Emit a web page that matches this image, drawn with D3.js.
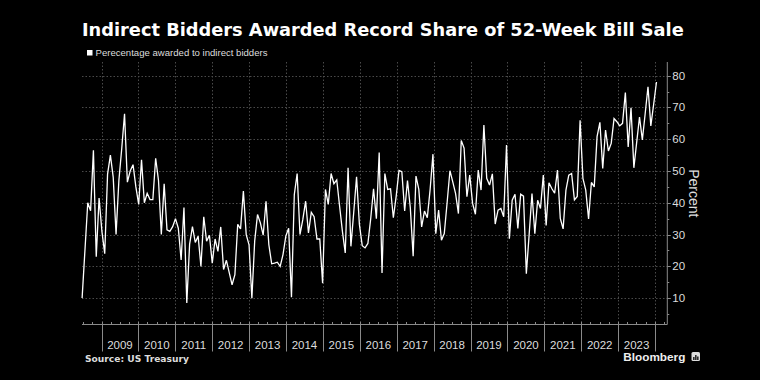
<!DOCTYPE html>
<html>
<head>
<meta charset="utf-8">
<script src="https://cdn.jsdelivr.net/npm/d3@7"></script>
<style>
  html, body { margin: 0; padding: 0; background: #000; }
  svg { display: block; }
</style>
</head>
<body>
<svg id="chart" width="760" height="380"></svg>
<script>
// ---- Data ----
const titleText = "Indirect Bidders Awarded Record Share of 52-Week Bill Sale";
const legendText = "Perecentage awarded to indirect bidders";
const sourceText = "Source: US Treasury";
const yAxisLabel = "Percent";
// 52-week bill auctions, every 4 weeks starting June 2008
const firstAuction = "2008-06-23";
const auctionStepDays = 28;
const values = [
  10, 25, 40, 37.5, 56.5, 23, 41.5, 31, 24, 49,
  55, 48, 30, 47, 57, 68, 46.5, 50, 52, 45,
  39.5, 53.5, 40, 43, 41, 41, 54, 47, 30, 46,
  31.5, 31, 32.5, 35, 32, 22, 38.5, 8.5, 27, 32.5,
  27.5, 29.5, 20, 35.6, 27.9, 29.8, 21, 28.6, 24.7, 32.4,
  19, 21.9, 18, 14.2, 17.4, 33.2, 31.8, 43.7, 30, 26.8,
  10, 28, 36.3, 33.7, 29.8, 40.5, 26.8, 20.8, 21, 21.3,
  20, 23.7, 29.5, 32, 10.3, 42.6, 49.2, 30, 34.7, 40.5,
  30.5, 37, 35.6, 28.6, 28.6, 14.7, 44.2, 39.5, 49.2, 46,
  47.2, 39, 31, 24.2, 51, 26.3, 37, 48.2, 33.2, 26.5,
  25.8, 27.2, 35, 44.4, 35, 55.8, 17.9, 49.2, 44.2, 44.4,
  35.3, 42, 50.2, 49.8, 37.4, 47, 38.4, 23.2, 48.4, 44.2,
  32.4, 37.4, 35.3, 44.2, 55.3, 30.3, 37.7, 28.2, 30.3, 40,
  50.1, 46.6, 42.9, 36.6, 59.6, 57.2, 41.9, 48.7, 39.8, 36.4,
  50.3, 44, 64.5, 47.7, 45.6, 49.1, 33.3, 37.7, 38.2, 35.6,
  58.2, 28.7, 40.8, 42.7, 31.9, 42.7, 42.1, 17.7, 30, 42.9,
  30.3, 40.8, 38.2, 48.7, 32.9, 46.3, 44.5, 43, 50.3, 35.1,
  31.8, 44, 48.7, 49.2, 40.9, 42, 66, 47.7, 44, 34.9,
  46.4, 45, 60.8, 65.3, 50.8, 62.9, 56.3, 58.7, 66.5, 65.5,
  64.2, 65, 74.7, 57.6, 69.9, 51, 59, 67, 59.8, 68,
  76.5, 64.2, 71, 78
];
const yTicks = [10, 20, 30, 40, 50, 60, 70, 80];
const yMinorTicks = [5, 15, 25, 35, 45, 55, 65, 75];
const yearLabels = ["2009","2010","2011","2012","2013","2014","2015","2016","2017","2018","2019","2020","2021","2022","2023"];
const xDomain = ["2008-06-22", "2024-05-01"];
const yDomain = [1.7, 84.3];

// ---- Layout ----
const pL = 82, pR = 667.3, pT = 62, pB = 324.5;
const svg = d3.select("#chart");
svg.append("rect").attr("width", 760).attr("height", 380).attr("fill", "#000");

const parse = d3.utcParse("%Y-%m-%d");
const start = parse(firstAuction);
const data = values.map((v, i) => ({ date: d3.utcDay.offset(start, i * auctionStepDays), value: v }));

const x = d3.scaleUtc().domain(xDomain.map(parse)).range([pL, pR]);
const y = d3.scaleLinear().domain(yDomain).range([pB, pT]);

function fitWidth(sel, w) {
  const l = sel.node().getComputedTextLength();
  const fs = parseFloat(sel.attr("font-size"));
  if (l > 0) sel.attr("font-size", (fs * w / l).toFixed(2));
}

// Title
const title = svg.append("text").attr("x", 82).attr("y", 36)
  .attr("fill", "#fff").attr("font-family", "DejaVu Sans").attr("font-weight", "bold")
  .attr("font-size", 18).text(titleText);
fitWidth(title, 602);

// Legend
svg.append("rect").attr("x", 87).attr("y", 50).attr("width", 5.5).attr("height", 5.5).attr("fill", "#fff");
const leg = svg.append("text").attr("x", 95.5).attr("y", 56)
  .attr("fill", "#ddd").attr("font-family", "Liberation Sans").attr("font-size", 9.5).text(legendText);
fitWidth(leg, 172);

// Grid
const yearTicks = d3.utcYear.range(parse("2009-01-01"), parse("2024-02-01"));
const g = svg.append("g");
g.selectAll(".vg").data(yearTicks).join("line")
  .attr("x1", d => Math.round(x(d)) + 0.5).attr("x2", d => Math.round(x(d)) + 0.5)
  .attr("y1", pT).attr("y2", pB)
  .attr("stroke", "#4a4a4a").attr("stroke-width", 1).attr("stroke-dasharray", "1.5,2");
g.selectAll(".hg").data(yTicks).join("line")
  .attr("x1", pL).attr("x2", pR)
  .attr("y1", d => Math.round(y(d)) + 0.5).attr("y2", d => Math.round(y(d)) + 0.5)
  .attr("stroke", "#4a4a4a").attr("stroke-width", 1).attr("stroke-dasharray", "1.5,2");

// Bottom axis
const axisColor = "#8a8a8a";
svg.append("line").attr("x1", pL).attr("x2", pR).attr("y1", pB).attr("y2", pB)
  .attr("stroke", axisColor).attr("stroke-width", 1);
const quarters = d3.utcMonth.every(3).range(parse("2008-07-01"), parse("2024-05-01"));
svg.selectAll(".qt").data(quarters).join("line")
  .attr("x1", d => Math.round(x(d)) + 0.5).attr("x2", d => Math.round(x(d)) + 0.5)
  .attr("y1", pB - 2.5).attr("y2", pB)
  .attr("stroke", axisColor).attr("stroke-width", 1);
svg.selectAll(".yt").data(yearTicks).join("line")
  .attr("x1", d => Math.round(x(d)) + 0.5).attr("x2", d => Math.round(x(d)) + 0.5)
  .attr("y1", pB).attr("y2", pB + 27)
  .attr("stroke", axisColor).attr("stroke-width", 1);
svg.selectAll(".yl").data(yearLabels).join("text")
  .attr("x", d => (x(parse(d + "-01-01")) + x(parse((+d + 1) + "-01-01"))) / 2)
  .attr("y", 349)
  .attr("text-anchor", "middle").attr("fill", "#ddd")
  .attr("font-family", "Liberation Sans").attr("font-size", 11.5).text(d => d);

// Right axis
svg.append("line").attr("x1", pR).attr("x2", pR).attr("y1", pT).attr("y2", pB)
  .attr("stroke", axisColor).attr("stroke-width", 1);
svg.selectAll(".ymt").data(yMinorTicks).join("line")
  .attr("x1", pR).attr("x2", pR + 2)
  .attr("y1", d => Math.round(y(d)) + 0.5).attr("y2", d => Math.round(y(d)) + 0.5)
  .attr("stroke", axisColor);
svg.selectAll(".ytk").data(yTicks).join("line")
  .attr("x1", pR).attr("x2", pR + 3.5)
  .attr("y1", d => Math.round(y(d)) + 0.5).attr("y2", d => Math.round(y(d)) + 0.5)
  .attr("stroke", axisColor);
svg.selectAll(".ylab").data(yTicks).join("text")
  .attr("x", pR + 5).attr("y", d => y(d) + 4)
  .attr("fill", "#ddd").attr("font-family", "Liberation Sans").attr("font-size", 11.5)
  .text(d => d);
svg.append("text").attr("transform", `translate(689, ${(pT + pB) / 2}) rotate(90)`)
  .attr("text-anchor", "middle").attr("fill", "#ddd")
  .attr("font-family", "Liberation Sans").attr("font-size", 14).text(yAxisLabel);

// Line
const line = d3.line().x(d => x(d.date)).y(d => y(d.value));
svg.append("path").datum(data).attr("d", line)
  .attr("fill", "none").attr("stroke", "#fff").attr("stroke-width", 1.3)
  .attr("stroke-linejoin", "miter").attr("stroke-miterlimit", 3);

// Source
const src = svg.append("text").attr("x", 85).attr("y", 361.5)
  .attr("fill", "#ddd").attr("font-family", "DejaVu Sans").attr("font-weight", "bold")
  .attr("font-size", 9).text(sourceText);
fitWidth(src, 104);

// Bloomberg logo
const bb = svg.append("text").attr("x", 623.3).attr("y", 361)
  .attr("fill", "#eee").attr("font-family", "Liberation Sans").attr("font-weight", "bold")
  .attr("font-size", 12).text("Bloomberg");
fitWidth(bb, 62);
svg.append("rect").attr("x", 691.5).attr("y", 352).attr("width", 8.5).attr("height", 9).attr("rx", 1.5).attr("fill", "#ddd");
[[693.2, 357, 1.3, 3], [695.2, 355, 1.3, 5], [697.2, 356.5, 1.3, 3.5]].forEach(b => {
  svg.append("rect").attr("x", b[0]).attr("y", b[1]).attr("width", b[2]).attr("height", b[3]).attr("fill", "#000");
});
</script>
</body>
</html>
